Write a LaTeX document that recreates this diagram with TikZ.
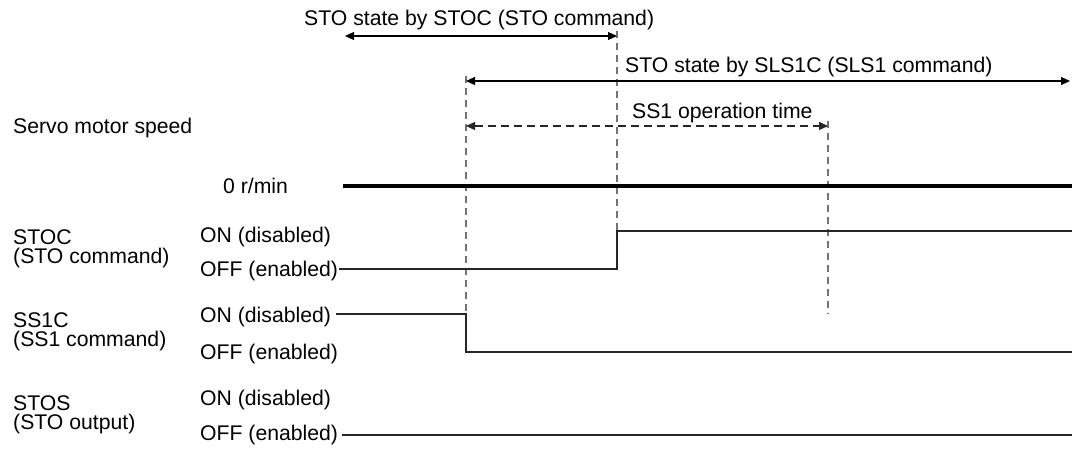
\documentclass[tikz,border=0pt]{standalone}
\usepackage{fontspec}
\setmainfont{Liberation Sans}
\usetikzlibrary{arrows.meta}
\begin{document}
\begin{tikzpicture}[x=1pt,y=-1pt,
  lbl/.style={anchor=base west,inner sep=0pt,font=\fontsize{21.2}{25}\selectfont},
  sig/.style={line width=1.2pt,black!85},
  thick0/.style={line width=3.5pt,black},
  guide/.style={line width=1.2pt,black!55,dash pattern=on 7pt off 5pt},
  dim/.style={line width=1.1pt,black},
  dimdash/.style={line width=1.1pt,black!85,dash pattern=on 8pt off 5pt},
  tip/.tip={Triangle[length=9pt,width=8pt]}
]
\useasboundingbox (0,0) rectangle (1072,448);

% top labels
\node[lbl] (t1) at (304,25) {STO state by STOC (STO command)};
\node[lbl] (t2) at (625,72) {STO state by SLS1C (SLS1 command)};
\node[lbl] (t3) at (632,118) {SS1 operation time};

% left labels
\node[lbl] (sms) at (13,133) {Servo motor speed};
\node[lbl] (zero) at (223,193) {0 r/min};

\node[lbl] (stoc1) at (13,244) {STOC};
\node[lbl] (stoc2) at (13,263) {(STO command)};
\node[lbl] (stocon) at (200,242) {ON (disabled)};
\node[lbl] (stocoff) at (200,276) {OFF (enabled)};

\node[lbl] (ss1) at (13,327) {SS1C};
\node[lbl] (ss2) at (13,346) {(SS1 command)};
\node[lbl] (sson) at (200,322) {ON (disabled)};
\node[lbl] (ssoff) at (200,359) {OFF (enabled)};

\node[lbl] (stos1) at (13,410) {STOS};
\node[lbl] (stos2) at (13,429) {(STO output)};
\node[lbl] (stoson) at (200,405) {ON (disabled)};
\node[lbl] (stosoff) at (200,440) {OFF (enabled)};

% coordinates
\coordinate (a1) at (345,36);
\coordinate (a2) at (617,36);
\coordinate (b1) at (466,81);
\coordinate (b2) at (1070,81);
\coordinate (c1) at (466,126);
\coordinate (c2) at (828,126);

% guide lines
\draw[guide] (466,76) -- (466,314);
\draw[guide] (617,31) -- (617,231);
\draw[guide] (828,121) -- (828,314);

% dimension arrows
\draw[dim,tip-tip] (a1) -- (a2);
\draw[dim,tip-tip] (b1) -- (b2);
\draw[dimdash,tip-tip] (c1) -- (c2);

% servo speed
\draw[thick0] (343,186) -- (1072,186);

% STOC
\draw[sig] (339,269) -- (617,269) -- (617,231) -- (1072,231);
% SS1C
\draw[sig] (336,314) -- (466,314) -- (466,352) -- (1072,352);
% STOS
\draw[sig] (342,435) -- (1072,435);
\end{tikzpicture}
\end{document}
